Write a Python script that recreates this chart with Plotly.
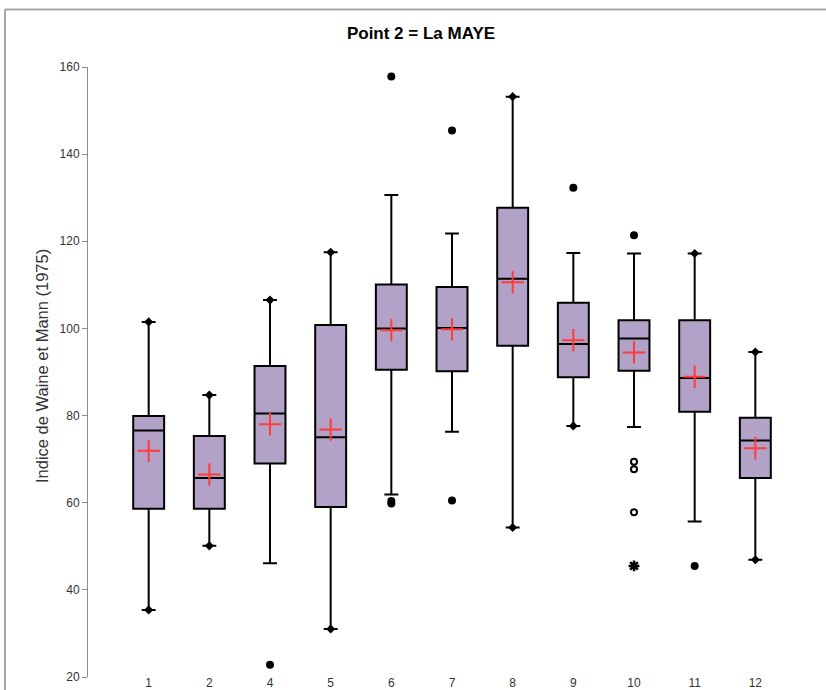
import plotly.graph_objects as go

# Monthly distribution of the Waine & Mann index at point 2 (La Maye)
categories = ["1", "2", "4", "5", "6", "7", "8", "9", "10", "11", "12"]
lower_whisker = [35.4, 50.1, 46.1, 31.0, 61.9, 76.3, 54.3, 77.6, 77.4, 55.7, 46.9]
q1 = [58.6, 58.6, 69.0, 59.0, 90.5, 90.2, 96.0, 88.8, 90.3, 80.9, 65.7]
median = [76.6, 65.7, 80.5, 75.0, 100.0, 100.1, 111.4, 96.4, 97.7, 88.6, 74.3]
q3 = [79.9, 75.3, 91.4, 100.8, 110.1, 109.5, 127.7, 105.9, 101.9, 101.9, 79.5]
upper_whisker = [101.5, 84.7, 106.5, 117.5, 130.6, 121.8, 153.2, 117.3, 117.2, 117.2, 94.6]
mean = [71.9, 66.5, 78.0, 76.8, 99.6, 99.8, 110.6, 97.3, 94.5, 88.9, 72.5]
minimum = [35.4, 50.1, 22.8, 31.0, 59.8, 60.5, 54.3, 77.6, 45.5, 45.5, 46.9]
maximum = [101.5, 84.7, 106.5, 117.5, 157.8, 145.4, 153.2, 132.3, 121.4, 117.2, 94.6]

# Individual points beyond the whiskers
outlier_cat = ["4", "6", "6", "6", "7", "7", "9", "10", "11"]
outlier_val = [22.8, 157.8, 60.4, 59.8, 145.4, 60.5, 132.3, 121.4, 45.5]
open_cat = ["10", "10", "10"]
open_val = [69.4, 67.7, 57.8]
star_cat = ["10"]
star_val = [45.5]

y_ticks = [20, 40, 60, 80, 100, 120, 140, 160]

FONT = "Liberation Sans Narrow, Arial Narrow, Liberation Sans, Arial, sans-serif"
TICK_FONT = "Liberation Sans, Arial, sans-serif"

fig = go.Figure()

fig.add_trace(go.Box(
    x=categories,
    q1=q1, median=median, q3=q3,
    lowerfence=lower_whisker, upperfence=upper_whisker,
    boxpoints=False,
    fillcolor="#B3A2C7",
    line=dict(color="black", width=2),
    whiskerwidth=0.45,
    width=0.51,
    showlegend=False,
))

# min / max markers where they sit on the whisker ends
mm_x, mm_y = [], []
for c, lo, hi, mn, mx in zip(categories, lower_whisker, upper_whisker, minimum, maximum):
    if mn == lo:
        mm_x.append(c); mm_y.append(mn)
    if mx == hi:
        mm_x.append(c); mm_y.append(mx)
fig.add_trace(go.Scatter(
    x=mm_x, y=mm_y, mode="markers",
    marker=dict(symbol="diamond", size=7, color="black"),
    showlegend=False, hoverinfo="skip",
))

fig.add_trace(go.Scatter(
    x=outlier_cat, y=outlier_val, mode="markers",
    marker=dict(symbol="circle", size=8, color="black"),
    showlegend=False,
))
fig.add_trace(go.Scatter(
    x=open_cat, y=open_val, mode="markers",
    marker=dict(symbol="circle-open", size=6, color="black", line=dict(width=2)),
    showlegend=False,
))
fig.add_trace(go.Scatter(
    x=star_cat, y=star_val, mode="markers",
    marker=dict(symbol="asterisk-open", size=9, color="black", line=dict(width=2.5)),
    showlegend=False,
))

# means
fig.add_trace(go.Scatter(
    x=categories, y=mean, mode="markers",
    marker=dict(symbol="cross-thin-open", size=16, color="#FF3B3B",
                line=dict(width=2, color="#FF3B3B")),
    showlegend=False,
))

W, H = 826, 690
L, R, T, B = 88, 10, 67, 13
pw, ph = W - L - R, H - T - B


def px_x(x):
    return (x - L) / pw


def px_y(y):
    return (H - B - y) / ph


fig.update_layout(
    width=W, height=H,
    margin=dict(l=L, r=R, t=T, b=B, autoexpand=False),
    paper_bgcolor="white", plot_bgcolor="white",
    font=dict(family=FONT, color="#404040"),
    title=dict(
        text="<b>Point 2 = La MAYE</b>",
        x=421 / W, xref="container", xanchor="center",
        y=1 - 33 / H, yref="container", yanchor="middle",
        font=dict(family=FONT, size=17, color="black"),
    ),
    xaxis=dict(
        type="category", categoryorder="array", categoryarray=categories,
        range=[-1, len(categories)],
        showline=False, showgrid=False, zeroline=False,
        ticks="", tickfont=dict(family=TICK_FONT, size=12, color="#333333"),
        ticklabelstandoff=-3, automargin=False,
    ),
    yaxis=dict(
        range=[20, 160], tickvals=y_ticks,
        showline=True, linecolor="#8C8C8C", linewidth=1,
        ticks="outside", ticklen=5, tickcolor="#8C8C8C",
        showgrid=False, zeroline=False, automargin=False,
        tickfont=dict(family=TICK_FONT, size=12, color="#333333"),
    ),
    annotations=[dict(
        text="Indice de Waine et Mann (1975)",
        x=px_x(42), y=px_y(366), xref="paper", yref="paper",
        textangle=-90, showarrow=False,
        font=dict(family=TICK_FONT, size=16.5, color="#333333"),
        xanchor="center", yanchor="middle",
    )],
    shapes=[
        dict(type="line", xref="paper", yref="paper",
             x0=px_x(5), x1=px_x(5), y0=px_y(692), y1=px_y(9.5),
             line=dict(color="#A6A6A6", width=2)),
        dict(type="line", xref="paper", yref="paper",
             x0=px_x(5), x1=px_x(828), y0=px_y(9.5), y1=px_y(9.5),
             line=dict(color="#A6A6A6", width=2)),
    ],
)

fig.write_html("out.html")
